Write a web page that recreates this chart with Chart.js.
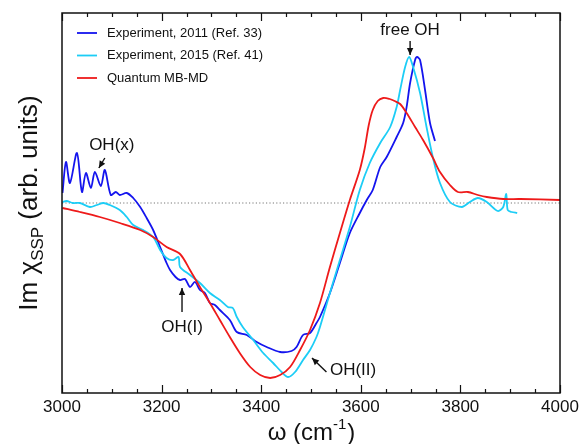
<!DOCTYPE html>
<html><head><meta charset="utf-8">
<script src="https://cdn.jsdelivr.net/npm/chart.js@4/dist/chart.umd.min.js"></script>
<style>html,body{margin:0;padding:0;background:#fff}#wrap{width:583px;height:444px}</style>
</head><body><div id="wrap"><canvas id="c" width="583" height="444"></canvas></div>
<script>
// ---- data (wavenumber cm^-1, Im chi_SSP arb. units) ----
const exp2011X = [3001,3008,3016,3030,3040,3048,3058,3066,3078,3086,3098,3108,3116,3130,3143,3157,3170,3183,3197,3210,3217,3228,3237,3247,3257,3267,3277,3287,3297,3307,3317,3337,3351,3371,3391,3411,3438,3461,3471,3484,3498,3511,3518,3538,3558,3578,3598,3612,3624,3639,3652,3672,3685,3692,3699,3709,3713,3719,3729,3739,3749];
const exp2011Y = [0.10,0.41,0.20,0.50,0.11,0.30,0.15,0.31,0.17,0.33,0.08,0.11,0.08,0.10,0.05,-0.04,-0.15,-0.27,-0.44,-0.60,-0.67,-0.74,-0.77,-0.76,-0.84,-0.79,-0.87,-0.90,-1.00,-1.02,-1.07,-1.17,-1.29,-1.32,-1.39,-1.44,-1.49,-1.48,-1.44,-1.32,-1.30,-1.20,-1.14,-0.90,-0.60,-0.30,-0.10,0.03,0.13,0.36,0.46,0.66,0.80,0.96,1.20,1.43,1.46,1.43,1.13,0.80,0.62];

const exp2015X = [3001,3009,3022,3036,3056,3070,3083,3096,3116,3130,3143,3163,3183,3197,3210,3223,3234,3237,3257,3277,3297,3317,3333,3343,3351,3363,3384,3404,3424,3441,3454,3468,3484,3498,3511,3518,3538,3558,3578,3598,3618,3639,3659,3672,3679,3689,3697,3705,3719,3732,3745,3759,3779,3803,3819,3835,3853,3875,3886,3892,3895,3903,3914];
const exp2015Y = [0.01,0.02,0.00,0.00,-0.04,-0.02,0.00,-0.02,-0.07,-0.14,-0.22,-0.27,-0.34,-0.47,-0.55,-0.57,-0.54,-0.64,-0.72,-0.80,-0.90,-0.97,-1.04,-1.05,-1.14,-1.24,-1.37,-1.50,-1.60,-1.69,-1.74,-1.69,-1.57,-1.47,-1.34,-1.24,-0.90,-0.57,-0.24,0.13,0.40,0.60,0.76,0.96,1.13,1.36,1.46,1.36,1.10,0.76,0.45,0.20,0.01,-0.04,0.01,0.05,0.01,-0.08,-0.04,0.09,-0.07,-0.09,-0.10];

const theoryX = [3001,3036,3076,3116,3157,3183,3210,3237,3257,3277,3297,3317,3337,3357,3378,3398,3418,3438,3458,3478,3498,3518,3538,3558,3578,3598,3608,3616,3624,3634,3645,3658,3668,3679,3692,3709,3725,3745,3759,3779,3795,3815,3835,3853,3886,3920,4000];
const theoryY = [-0.05,-0.09,-0.14,-0.20,-0.27,-0.34,-0.44,-0.51,-0.67,-0.84,-1.00,-1.17,-1.34,-1.50,-1.64,-1.72,-1.75,-1.72,-1.64,-1.47,-1.27,-1.00,-0.64,-0.30,0.03,0.33,0.55,0.78,0.93,1.02,1.05,1.04,1.02,0.99,0.90,0.76,0.63,0.45,0.31,0.18,0.11,0.11,0.08,0.06,0.04,0.04,0.03];

const zeroX = [3000,4000];
const zeroY = [0,0];

const seriesNames = ['Experiment, 2011 (Ref. 33)','Experiment, 2015 (Ref. 41)','Quantum MB-MD'];
const seriesColors = ['#1414ee','#1ccdf6','#ee1a1a'];
const xTickValues = [3000,3200,3400,3600,3800,4000];

const annotations = [
  {text:'free OH', x:3699, y:1.73, align:'center', ax1:3699, ay1:1.62, ax2:3699, ay2:1.48},
  {text:'OH(x)', x:3100, y:0.58, align:'center', ax1:3086, ay1:0.45, ax2:3074, ay2:0.35},
  {text:'OH(I)', x:3241, y:-1.24, align:'center', ax1:3241, ay1:-1.09, ax2:3241, ay2:-0.85},
  {text:'OH(II)', x:3538, y:-1.67, align:'left', ax1:3531, ay1:-1.69, ax2:3502, ay2:-1.55}
];

const pts = (xs, ys) => xs.map((x,i)=>({x:x, y:ys[i]}));
const FONT = '"Liberation Sans", Arial, Helvetica, sans-serif';

function arrow(ctx, x1, y1, x2, y2) {
  ctx.beginPath(); ctx.moveTo(x1,y1); ctx.lineTo(x2,y2); ctx.stroke();
  const a = Math.atan2(y2-y1, x2-x1), L = 7, W = 3.2;
  ctx.beginPath();
  ctx.moveTo(x2,y2);
  ctx.lineTo(x2 - L*Math.cos(a) + W*Math.sin(a), y2 - L*Math.sin(a) - W*Math.cos(a));
  ctx.lineTo(x2 - L*Math.cos(a) - W*Math.sin(a), y2 - L*Math.sin(a) + W*Math.cos(a));
  ctx.closePath(); ctx.fill();
}

const decor = {
  id:'decor',
  afterDraw(chart) {
    const ctx = chart.ctx, xs = chart.scales.x, ys = chart.scales.y, a = chart.chartArea;
    ctx.save();
    ctx.strokeStyle = '#111'; ctx.lineWidth = 1.5;
    ctx.strokeRect(a.left, a.top, a.right-a.left, a.bottom-a.top);
    ctx.lineWidth = 1.2;
    for (let v = 3000; v <= 4000; v += 50) {
      const px = Math.round(xs.getPixelForValue(v)) + 0.5;
      const len = (v % 200 === 0) ? 8 : 4;
      ctx.beginPath();
      ctx.moveTo(px, a.bottom); ctx.lineTo(px, a.bottom - len);
      ctx.moveTo(px, a.top); ctx.lineTo(px, a.top + len);
      ctx.stroke();
    }
    ctx.font = '13px ' + FONT; ctx.textBaseline = 'middle'; ctx.textAlign = 'left';
    seriesNames.forEach((n,i) => {
      const y = 33 + i*22.5;
      ctx.strokeStyle = seriesColors[i]; ctx.lineWidth = 1.8;
      ctx.beginPath(); ctx.moveTo(77, y); ctx.lineTo(97, y); ctx.stroke();
      ctx.fillStyle = '#111'; ctx.fillText(n, 107, y);
    });
    ctx.font = '17px ' + FONT; ctx.fillStyle = '#111'; ctx.strokeStyle = '#111'; ctx.lineWidth = 1.4;
    annotations.forEach(an => {
      ctx.textAlign = an.align; ctx.textBaseline = 'middle';
      ctx.fillText(an.text, xs.getPixelForValue(an.x), ys.getPixelForValue(an.y));
      arrow(ctx, xs.getPixelForValue(an.ax1), ys.getPixelForValue(an.ay1), xs.getPixelForValue(an.ax2), ys.getPixelForValue(an.ay2));
    });
    const cx = (a.left + a.right)/2, by = 440;
    ctx.textBaseline = 'alphabetic'; ctx.textAlign = 'left';
    const f1 = '24px ' + FONT, f2 = '15px ' + FONT;
    ctx.font = f1; const w1 = ctx.measureText('ω (cm').width; const w3 = ctx.measureText(')').width;
    ctx.font = f2; const w2 = ctx.measureText('-1').width;
    let x0 = cx - (w1+w2+w3)/2;
    ctx.font = f1; ctx.fillText('ω (cm', x0, by);
    ctx.font = f2; ctx.fillText('-1', x0 + w1, by - 11);
    ctx.font = f1; ctx.fillText(')', x0 + w1 + w2 + 1, by);
    ctx.save();
    ctx.translate(37, (a.top + a.bottom)/2);
    ctx.rotate(-Math.PI/2);
    const g1 = '26px ' + FONT, g2 = '17px ' + FONT;
    ctx.font = g1; const t1 = 'Im χ', t3 = ' (arb. units)';
    const m1 = ctx.measureText(t1).width, m3 = ctx.measureText(t3).width;
    ctx.font = g2; const m2 = ctx.measureText('SSP').width;
    let y0 = -(m1+m2+m3)/2;
    ctx.font = g1; ctx.fillText(t1, y0, 0);
    ctx.font = g2; ctx.fillText('SSP', y0 + m1, 6);
    ctx.font = g1; ctx.fillText(t3, y0 + m1 + m2, 0);
    ctx.restore();
    ctx.restore();
  }
};

const lineDs = (label, xs, ys, color) => ({
  label, data: pts(xs, ys), borderColor: color, backgroundColor: color,
  borderWidth: 1.8, pointRadius: 0, fill: false, tension: 0.3
});

new Chart(document.getElementById('c'), {
  type: 'line',
  data: {
    datasets: [
      lineDs(seriesNames[2], theoryX, theoryY, seriesColors[2]),
      lineDs(seriesNames[1], exp2015X, exp2015Y, seriesColors[1]),
      lineDs(seriesNames[0], exp2011X, exp2011Y, seriesColors[0]),
      {label:'zero', data: pts(zeroX, zeroY), borderColor:'#777', borderWidth:1, borderDash:[1.2,2.2], pointRadius:0, order: 10}
    ]
  },
  options: {
    responsive: false, animation: false, devicePixelRatio: 1,
    layout: { padding: { left: 62, right: 23, top: 13, bottom: 0 } },
    plugins: { legend: { display: false }, tooltip: { enabled: false } },
    scales: {
      x: {
        type: 'linear', min: 3000, max: 4000,
        grid: { display: false, drawTicks: false },
        border: { display: false },
        afterFit: (s) => { s.height = 51; },
        afterBuildTicks: (s) => { s.ticks = xTickValues.map(v => ({value: v})); },
        ticks: { padding: 4, color: '#111', font: { size: 17, family: FONT }, maxRotation: 0, callback: v => String(v) }
      },
      y: { type: 'linear', min: -1.9, max: 1.9, display: false }
    }
  },
  plugins: [decor]
});
</script>
</body></html>
